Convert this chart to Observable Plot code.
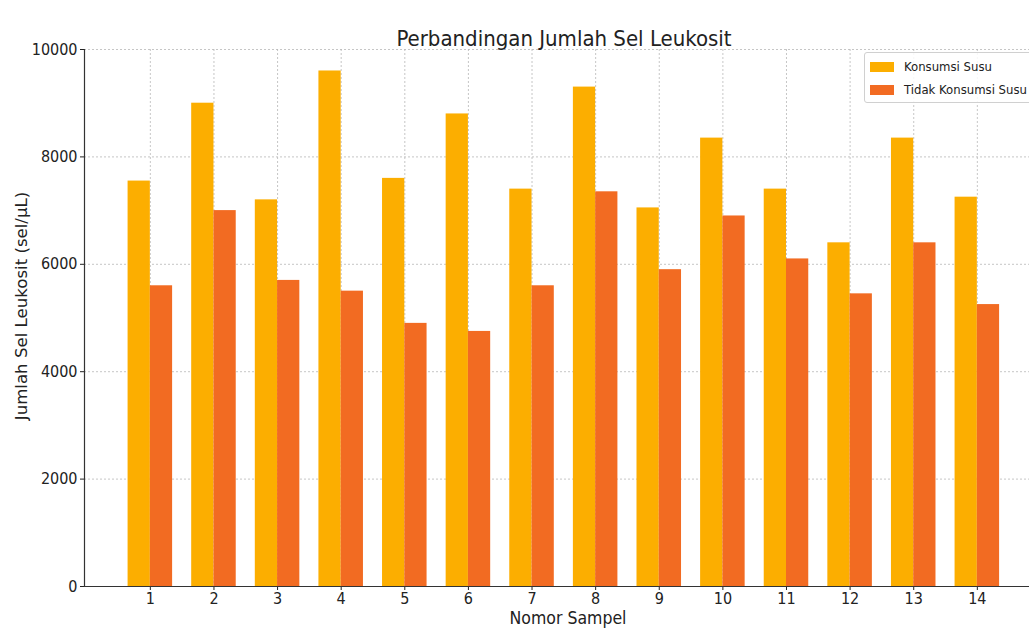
<!DOCTYPE html>
<html>
<head>
<meta charset="utf-8">
<script src="https://cdn.jsdelivr.net/npm/d3@7"></script>
<script src="https://cdn.jsdelivr.net/npm/@observablehq/plot@0.6"></script>
<style>
  html, body { margin: 0; padding: 0; background: #fff; }
  #wrap { position: relative; width: 1029px; height: 631px; overflow: hidden; font-family: "DejaVu Sans Condensed", "DejaVu Sans", sans-serif; }
  #legend { position: absolute; left: 864px; top: 52px; width: 200px; height: 49px; border: 1px solid #d0d0d0; border-radius: 3px; background: rgba(255,255,255,0.85); font-size: 13px; color: #222; }
  .row { position: absolute; left: 5px; display: flex; align-items: center; }
  .sw { width: 24px; height: 10px; margin-right: 10px; }
</style>
</head>
<body>
<div id="wrap"></div>
<script>
const samples = [1,2,3,4,5,6,7,8,9,10,11,12,13,14];
const konsumsiSusu = [7550,9000,7200,9600,7600,8800,7400,9300,7050,8350,7400,6400,8350,7250];
const tidakKonsumsiSusu = [5600,7000,5700,5500,4900,4750,5600,7350,5900,6900,6100,5450,6400,5250];
const seriesNames = ["Konsumsi Susu", "Tidak Konsumsi Susu"];
const seriesColors = ["#FCAE00", "#F26B22"];
const yTicks = [0,2000,4000,6000,8000,10000];
const titleText = "Perbandingan Jumlah Sel Leukosit";
const xLabel = "Nomor Sampel";
const yLabel = "Jumlah Sel Leukosit (sel/µL)";

const barW = 0.35;
const data = [];
samples.forEach((s,i) => {
  data.push({sample: s, series: seriesNames[0], value: konsumsiSusu[i], x1: s - barW, x2: s});
  data.push({sample: s, series: seriesNames[1], value: tidakKonsumsiSusu[i], x1: s, x2: s + barW});
});

const font = "'DejaVu Sans Condensed', 'DejaVu Sans', sans-serif";
const chart = Plot.plot({
  width: 1029,
  height: 631,
  marginTop: 49,
  marginBottom: 45,
  marginLeft: 84,
  marginRight: 0,
  style: {fontFamily: font, fontSize: "16px", color: "#222", background: "#fff"},
  x: {type: "linear", domain: [-0.035, 14.82]},
  y: {domain: [0, 10000]},
  color: {domain: seriesNames, range: seriesColors},
  marks: [
    Plot.gridY(yTicks, {stroke: "#b8b8b8", strokeOpacity: 1, strokeDasharray: "2,2", strokeWidth: 0.8}),
    Plot.gridX(samples, {stroke: "#b8b8b8", strokeOpacity: 1, strokeDasharray: "2,2", strokeWidth: 0.8}),
    Plot.rectY(data, {x1: "x1", x2: "x2", y1: 0, y2: "value", fill: "series"}),
    Plot.axisY({ticks: yTicks, tickSize: 4, tickPadding: 3, label: null, fontSize: 16, tickFormat: d => String(d)}),
    Plot.axisX({ticks: samples, tickSize: 4, tickPadding: 2, label: null, fontSize: 16, tickFormat: d => String(d)}),
    Plot.frame({anchor: "left", stroke: "#333", strokeWidth: 1.2}),
    Plot.frame({anchor: "bottom", stroke: "#333", strokeWidth: 1.2}),
    Plot.text([titleText], {frameAnchor: "top", dy: -19, dx: 7, fontSize: 22, fill: "#222", text: d => d}),
    Plot.text([xLabel], {frameAnchor: "bottom", dy: 37, dx: 11, fontSize: 17.5, fill: "#222", text: d => d}),
    Plot.text([yLabel], {frameAnchor: "left", dx: -63, dy: -12, rotate: -90, textAnchor: "middle", fontSize: 16.6, fontFamily: "'DejaVu Sans', sans-serif", fill: "#222", text: d => d})
  ]
});
const wrap = document.getElementById("wrap");
wrap.appendChild(chart);

const legend = document.createElement("div");
legend.id = "legend";
seriesNames.forEach((n, i) => {
  const row = document.createElement("div");
  row.className = "row";
  row.style.top = (6 + i * 23) + "px";
  const sw = document.createElement("div");
  sw.className = "sw";
  sw.style.background = seriesColors[i];
  const t = document.createElement("span");
  t.textContent = n;
  row.appendChild(sw); row.appendChild(t);
  legend.appendChild(row);
});
wrap.appendChild(legend);
</script>
</body>
</html>
